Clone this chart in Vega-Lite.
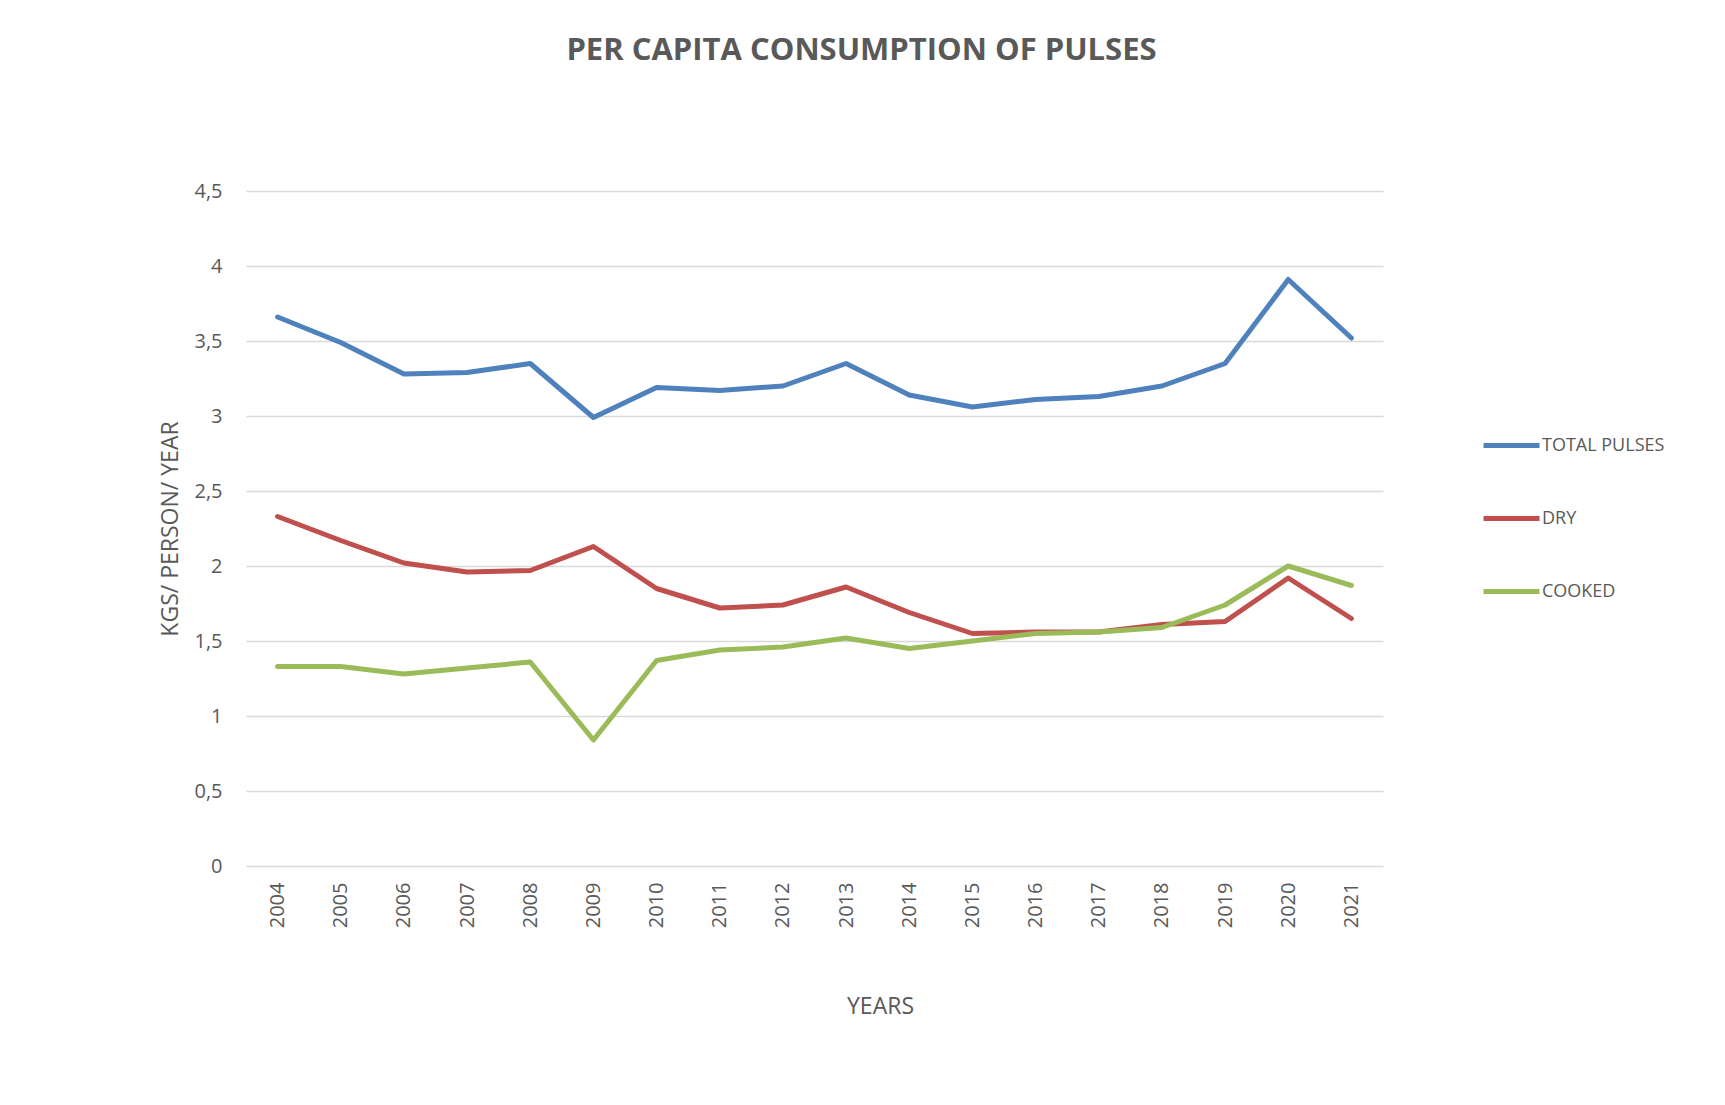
{
  "$schema": "https://vega.github.io/schema/vega-lite/v6.json",
  "autosize": {"type": "none"},
  "width": 1137,
  "height": 675,
  "padding": {"left": 246, "top": 191, "right": 342, "bottom": 239},
  "background": "white",
  "title": {
    "text": "PER CAPITA CONSUMPTION OF PULSES",
    "font": "Open Sans",
    "fontSize": 31,
    "fontWeight": "bold",
    "color": "#595959",
    "anchor": "middle",
    "baseline": "alphabetic",
    "offset": 90,
    "dx": 47
  },
  "config": {
    "font": "Open Sans",
    "view": {"stroke": null},
    "text": {"font": "Open Sans"}
  },
  "data": {
    "values": [
      {"year": "2004", "series": "TOTAL PULSES", "value": 3.66},
      {"year": "2005", "series": "TOTAL PULSES", "value": 3.49},
      {"year": "2006", "series": "TOTAL PULSES", "value": 3.28},
      {"year": "2007", "series": "TOTAL PULSES", "value": 3.29},
      {"year": "2008", "series": "TOTAL PULSES", "value": 3.35},
      {"year": "2009", "series": "TOTAL PULSES", "value": 2.99},
      {"year": "2010", "series": "TOTAL PULSES", "value": 3.19},
      {"year": "2011", "series": "TOTAL PULSES", "value": 3.17},
      {"year": "2012", "series": "TOTAL PULSES", "value": 3.20},
      {"year": "2013", "series": "TOTAL PULSES", "value": 3.35},
      {"year": "2014", "series": "TOTAL PULSES", "value": 3.14},
      {"year": "2015", "series": "TOTAL PULSES", "value": 3.06},
      {"year": "2016", "series": "TOTAL PULSES", "value": 3.11},
      {"year": "2017", "series": "TOTAL PULSES", "value": 3.13},
      {"year": "2018", "series": "TOTAL PULSES", "value": 3.20},
      {"year": "2019", "series": "TOTAL PULSES", "value": 3.35},
      {"year": "2020", "series": "TOTAL PULSES", "value": 3.91},
      {"year": "2021", "series": "TOTAL PULSES", "value": 3.52},
      {"year": "2004", "series": "DRY", "value": 2.33},
      {"year": "2005", "series": "DRY", "value": 2.17},
      {"year": "2006", "series": "DRY", "value": 2.02},
      {"year": "2007", "series": "DRY", "value": 1.96},
      {"year": "2008", "series": "DRY", "value": 1.97},
      {"year": "2009", "series": "DRY", "value": 2.13},
      {"year": "2010", "series": "DRY", "value": 1.85},
      {"year": "2011", "series": "DRY", "value": 1.72},
      {"year": "2012", "series": "DRY", "value": 1.74},
      {"year": "2013", "series": "DRY", "value": 1.86},
      {"year": "2014", "series": "DRY", "value": 1.69},
      {"year": "2015", "series": "DRY", "value": 1.55},
      {"year": "2016", "series": "DRY", "value": 1.56},
      {"year": "2017", "series": "DRY", "value": 1.56},
      {"year": "2018", "series": "DRY", "value": 1.61},
      {"year": "2019", "series": "DRY", "value": 1.63},
      {"year": "2020", "series": "DRY", "value": 1.92},
      {"year": "2021", "series": "DRY", "value": 1.65},
      {"year": "2004", "series": "COOKED", "value": 1.33},
      {"year": "2005", "series": "COOKED", "value": 1.33},
      {"year": "2006", "series": "COOKED", "value": 1.28},
      {"year": "2007", "series": "COOKED", "value": 1.32},
      {"year": "2008", "series": "COOKED", "value": 1.36},
      {"year": "2009", "series": "COOKED", "value": 0.84},
      {"year": "2010", "series": "COOKED", "value": 1.37},
      {"year": "2011", "series": "COOKED", "value": 1.44},
      {"year": "2012", "series": "COOKED", "value": 1.46},
      {"year": "2013", "series": "COOKED", "value": 1.52},
      {"year": "2014", "series": "COOKED", "value": 1.45},
      {"year": "2015", "series": "COOKED", "value": 1.50},
      {"year": "2016", "series": "COOKED", "value": 1.55},
      {"year": "2017", "series": "COOKED", "value": 1.56},
      {"year": "2018", "series": "COOKED", "value": 1.59},
      {"year": "2019", "series": "COOKED", "value": 1.74},
      {"year": "2020", "series": "COOKED", "value": 2.00},
      {"year": "2021", "series": "COOKED", "value": 1.87}
    ]
  },
  "mark": {"type": "line", "strokeWidth": 5, "strokeCap": "round", "strokeJoin": "round"},
  "encoding": {
    "x": {
      "field": "year",
      "type": "ordinal",
      "scale": {"type": "point", "padding": 0.5},
      "axis": {
        "title": "YEARS",
        "titleFont": "Open Sans",
        "titleFontSize": 23,
        "titleFontWeight": "normal",
        "titleColor": "#595959",
        "titleX": 634,
        "titleY": 147,
        "titleAlign": "center",
        "titleBaseline": "alphabetic",
        "labelAngle": -90,
        "labelFont": "Open Sans",
        "labelFontSize": 20,
        "labelColor": "#595959",
        "labelPadding": 16,
        "ticks": false,
        "domain": false,
        "grid": false
      }
    },
    "y": {
      "field": "value",
      "type": "quantitative",
      "scale": {"domain": [0, 4.5], "nice": false, "zero": true},
      "axis": {
        "title": "KGS/ PERSON/ YEAR",
        "titleFont": "Open Sans",
        "titleFontSize": 23,
        "titleFontWeight": "normal",
        "titleColor": "#595959",
        "titlePadding": 11,
        "values": [0, 0.5, 1, 1.5, 2, 2.5, 3, 3.5, 4, 4.5],
        "labelExpr": "replace(format(datum.value, '~g'), '.', ',')",
        "labelFont": "Open Sans",
        "labelFontSize": 20,
        "labelColor": "#595959",
        "labelPadding": 24,
        "ticks": false,
        "domain": false,
        "grid": true,
        "gridColor": "#D9D9D9",
        "gridWidth": 1.5
      }
    },
    "color": {
      "field": "series",
      "type": "nominal",
      "sort": ["TOTAL PULSES", "DRY", "COOKED"],
      "scale": {"domain": ["TOTAL PULSES", "DRY", "COOKED"], "range": ["#4F81BD", "#C0504D", "#9BBB59"]},
      "legend": {
        "title": null,
        "orient": "none",
        "legendX": 1235,
        "legendY": 224,
        "padding": 0,
        "symbolType": "stroke",
        "symbolSize": 3136,
        "symbolStrokeWidth": 5,
        "labelFont": "Open Sans",
        "labelFontSize": 18,
        "labelColor": "#595959",
        "labelOffset": 0,
        "rowPadding": 32
      }
    }
  }
}
